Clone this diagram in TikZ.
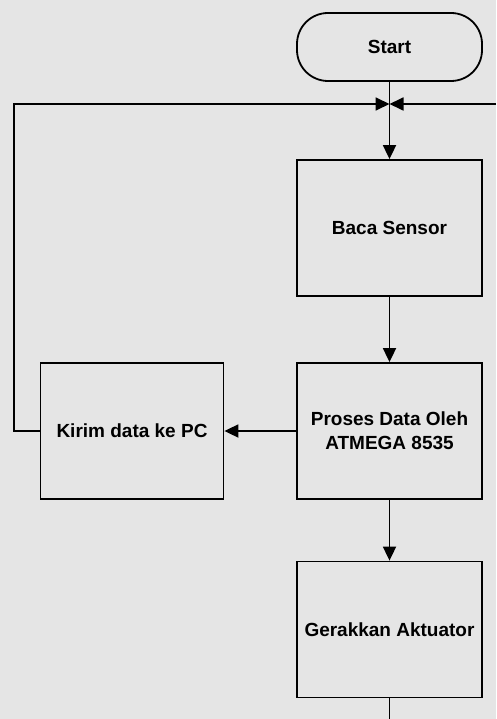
\documentclass[tikz,border=0pt]{standalone}
\usepackage{fontspec}
\setmainfont{Liberation Sans}
\usetikzlibrary{arrows.meta}

\begin{document}
\begin{tikzpicture}[x=1pt,y=-1pt,
  box/.style={draw,line width=1.8pt,minimum width=185pt,minimum height=136pt,align=center,font=\bfseries\fontsize{19}{24}\selectfont},
  link/.style={line width=1.8pt},
  flow/.style={link,-{Triangle[length=14pt,width=13pt]}}]
  \fill[black!10] (0,0) rectangle (496,719);
  \useasboundingbox (0,0) rectangle (496,719);

  \node[box,rounded corners=31pt,minimum height=68pt] (start) at (389.5,47) {Start};
  \node[box] (baca) at (389.5,228) {Baca Sensor};
  \node[box] (proses) at (389.5,431) {Proses Data Oleh\\ATMEGA 8535};
  \node[box] (gerak) at (389.5,629.5) {Gerakkan Aktuator};
  \node[box,minimum width=183pt] (kirim) at (132,431) {Kirim data ke PC};

  \coordinate (join) at (389.5,104);
  \coordinate (loopL) at (14,104);
  \coordinate (loopR) at (496,104);
  \coordinate (tail) at (389.5,719);

  \draw[link] (start) -- (join);
  \draw[flow] (join) -- (baca);
  \draw[flow] (baca) -- (proses);
  \draw[flow] (proses) -- (gerak);
  \draw[flow] (proses) -- (kirim);
  \draw[flow] (kirim.west) -| (loopL) -- (join);
  \draw[flow] (loopR) -- (join);
  \draw[link] (gerak) -- (tail);
\end{tikzpicture}
\end{document}
